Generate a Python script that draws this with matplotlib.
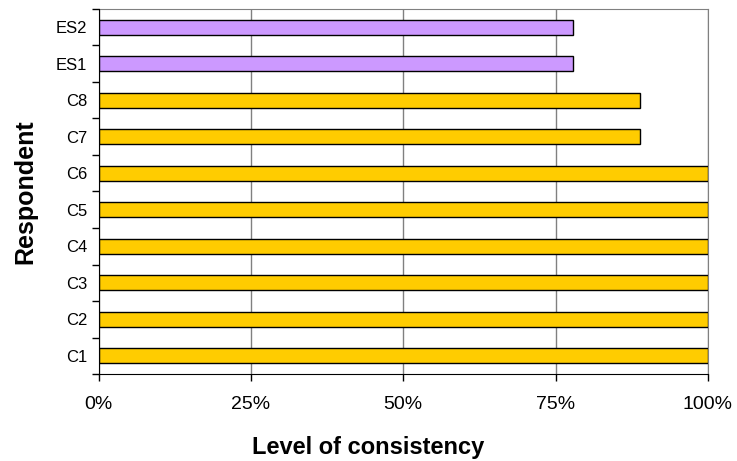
import matplotlib.pyplot as plt
from matplotlib.ticker import FixedLocator

plt.rcParams['font.family'] = ['Liberation Sans', 'DejaVu Sans']

# respondents, bottom to top
respondents = ["C1", "C2", "C3", "C4", "C5", "C6", "C7", "C8", "ES1", "ES2"]
consistency = [100, 100, 100, 100, 100, 100, 88.9, 88.9, 77.8, 77.8]
groups = ["C", "C", "C", "C", "C", "C", "C", "C", "ES", "ES"]

colours = {"C": "#FFCC00", "ES": "#CC99FF"}

fig = plt.figure(figsize=(7.37, 4.61), dpi=100)
ax = fig.add_axes([98.5 / 737, 1 - 374 / 461, (708 - 98.5) / 737, (374 - 9) / 461])

pos = list(range(len(respondents)))
ax.barh(pos, consistency, height=0.42,
        color=[colours[g] for g in groups], edgecolor="black", linewidth=1.0, zorder=3)

ax.set_xlim(0, 100)
ax.set_ylim(-0.5, len(respondents) - 0.5)

ax.set_xticks([0, 25, 50, 75, 100])
ax.set_xticklabels(["0%", "25%", "50%", "75%", "100%"], fontsize=14)
ax.set_yticks(pos)
ax.set_yticklabels(respondents, fontsize=12)
ax.tick_params(axis="y", length=0, pad=8)
ax.yaxis.set_minor_locator(FixedLocator([p - 0.5 for p in pos] + [len(pos) - 0.5]))
ax.tick_params(axis="y", which="minor", length=5, width=1, direction="out")
ax.tick_params(axis="x", length=5, width=1, direction="out", pad=11)

ax.grid(axis="x", color="#808080", linewidth=1, zorder=0)
for side in ["top", "right"]:
    ax.spines[side].set_color("#808080")
for side in ["left", "bottom"]:
    ax.spines[side].set_color("black")
    ax.spines[side].set_zorder(4)

ax.set_xlabel("Level of consistency", fontsize=17, fontweight="bold")
ax.xaxis.set_label_coords(0.442, -0.17)
ax.set_ylabel("Respondent", fontsize=18, fontweight="bold", labelpad=13)

fig.savefig("out.png", dpi=100)
